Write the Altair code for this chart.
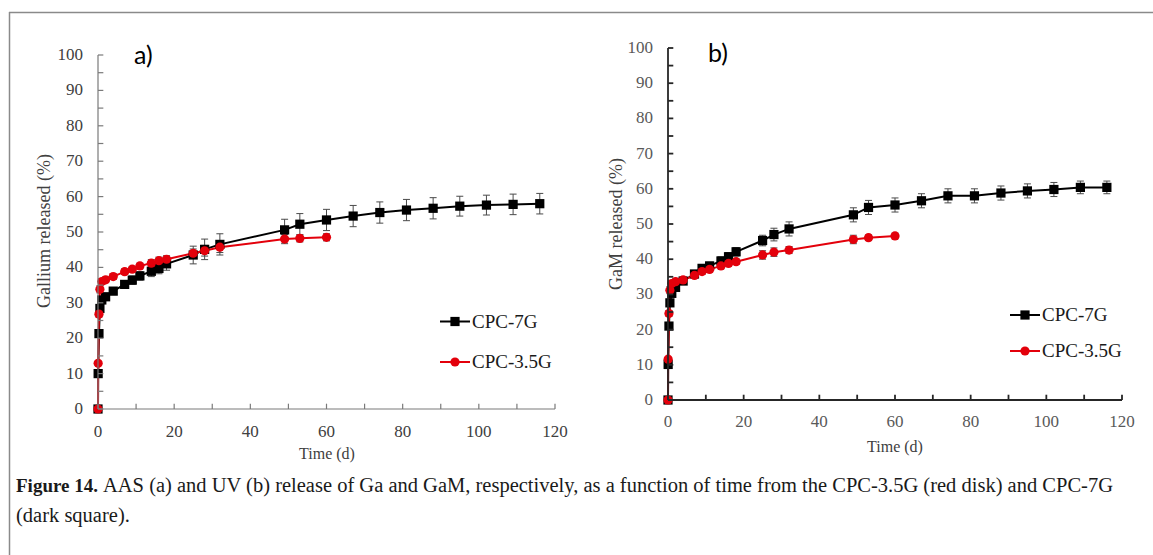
import altair as alt
import pandas as pd

series_names = ["CPC-7G", "CPC-3.5G"]
series_colors = ["#000000", "#e3000b"]
series_shapes = ["square", "circle"]

# ---- Panel a (AAS, Gallium) ----
time_a_7g = [0, 0.04, 0.25, 0.5, 1, 2, 4, 7, 9, 11, 14, 16, 18, 25, 28, 32, 49, 53, 60, 67, 74, 81, 88, 95, 102, 109, 116]
rel_a_7g = [0, 10, 21.3, 28.4, 30.8, 31.7, 33.3, 35.2, 36.4, 37.6, 38.9, 39.7, 41.0, 43.5, 45.1, 46.5, 50.6, 52.2, 53.4, 54.5, 55.5, 56.2, 56.7, 57.3, 57.6, 57.8, 58.0]
err_a_7g = [0, 0.5, 0.8, 1, 1, 1, 1, 1, 1.2, 1.2, 1.5, 1.5, 1.8, 2.5, 2.9, 3, 3, 3, 3, 3, 3, 3, 3, 2.8, 2.8, 2.9, 2.9]
time_a_35g = [0, 0.04, 0.25, 0.5, 1, 2, 4, 7, 9, 11, 14, 16, 18, 25, 28, 32, 49, 53, 60]
rel_a_35g = [0, 12.9, 26.8, 33.8, 36.0, 36.5, 37.4, 38.8, 39.5, 40.4, 41.2, 41.9, 42.3, 44.0, 44.7, 45.7, 48.0, 48.2, 48.5]
err_a_35g = [0, 0.5, 0.8, 1, 0.8, 0.8, 0.8, 0.8, 0.8, 0.8, 1, 1, 1, 1.2, 1.5, 1.5, 1.3, 1, 1]

# ---- Panel b (UV, GaM) ----
time_b_7g = time_a_7g
rel_b_7g = [0, 10.1, 21.0, 27.6, 30.3, 32.0, 33.8, 35.8, 37.4, 38.1, 39.5, 40.7, 42.1, 45.3, 47.0, 48.6, 52.6, 54.7, 55.4, 56.6, 58.0, 58.0, 58.8, 59.4, 59.8, 60.4, 60.4]
err_b_7g = [0, 0.5, 0.8, 1, 1, 1, 1, 1, 1, 1, 1.2, 1.2, 1.2, 1.5, 1.8, 2, 2, 2, 2, 2, 2, 2, 2, 2, 2, 1.8, 1.8]
time_b_35g = time_a_35g
rel_b_35g = [0, 11.6, 24.6, 31.2, 33.1, 33.6, 34.1, 35.4, 36.5, 37.1, 38.1, 38.8, 39.3, 41.2, 42.0, 42.6, 45.6, 46.1, 46.6]
err_b_35g = [0, 0.5, 0.8, 1, 0.8, 0.8, 0.8, 0.8, 0.8, 0.8, 0.8, 0.8, 0.8, 1.2, 1.2, 1, 1.2, 0.8, 0.8]

x_labels = [0, 20, 40, 60, 80, 100, 120]
x_ticks = list(range(0, 121, 10))
y_labels = list(range(0, 101, 10))
y_ticks = list(range(0, 101, 5))

panel_letters = ["a)", "b)"]
y_titles = ["Gallium released (%)", "GaM released (%)"]
x_title = "Time (d)"
caption_bold = "Figure 14."
caption_line1 = "AAS (a) and UV (b) release of Ga and GaM, respectively, as a function of time from the CPC-3.5G (red disk) and CPC-7G"
caption_line2 = "(dark square)."

SERIF = "Liberation Serif"
W, H = 1153, 555


def series_df(times, vals, errs, name):
    d = pd.DataFrame({"t": times, "v": vals, "err": errs})
    d["series"] = name
    d["lo"] = d["v"] - d["err"]
    d["hi"] = d["v"] + d["err"]
    return d


def panel(df, xr, yr, axis_color, axis_w, label_color, lab_dy,
          letter, ytitle, letter_pos, ytitle_pos, xtitle_pos, legend_pos):
    xs = alt.Scale(domain=[0, 120], range=xr, nice=False, zero=False)
    ys = alt.Scale(domain=[0, 100], range=yr, nice=False, zero=False)
    X = alt.X("t:Q", scale=xs, axis=None)
    Y = alt.Y("v:Q", scale=ys, axis=None)
    col = alt.Color("series:N", scale=alt.Scale(domain=series_names, range=series_colors), legend=None)
    shp = alt.Shape("series:N", scale=alt.Scale(domain=series_names, range=series_shapes), legend=None)

    base = alt.Chart(df)
    err_rule = base.mark_rule(color="#4a4a4a", strokeWidth=1).encode(
        x=X, y=alt.Y("lo:Q", scale=ys, axis=None), y2="hi:Q")
    cap_hi = base.transform_filter("datum.err > 0").mark_point(
        shape="M-1,0L1,0", size=49, filled=False, color="#4a4a4a", strokeWidth=1, opacity=1).encode(
        x=X, y=alt.Y("hi:Q", scale=ys, axis=None))
    cap_lo = base.transform_filter("datum.err > 0").mark_point(
        shape="M-1,0L1,0", size=49, filled=False, color="#4a4a4a", strokeWidth=1, opacity=1).encode(
        x=X, y=alt.Y("lo:Q", scale=ys, axis=None))
    lines = base.mark_line(strokeWidth=2).encode(x=X, y=Y, color=col, detail="series:N")
    pts = base.mark_point(filled=True, size=85, opacity=1).encode(x=X, y=Y, color=col, shape=shp)

    one = pd.DataFrame({"k": [0]})
    # axis lines
    xdom = alt.Chart(one).mark_rule(color=axis_color, strokeWidth=axis_w).encode(
        x=alt.XDatum(0, scale=xs, axis=None), x2=alt.X2Datum(120),
        y=alt.YDatum(0, scale=ys, axis=None))
    ydom = alt.Chart(one).mark_rule(color=axis_color, strokeWidth=axis_w).encode(
        x=alt.XDatum(0, scale=xs, axis=None),
        y=alt.YDatum(0, scale=ys, axis=None), y2=alt.Y2Datum(100))
    # tick marks (inside)
    xt = alt.Chart(pd.DataFrame({"t": x_ticks})).mark_rule(color=axis_color, strokeWidth=axis_w).encode(
        x=alt.X("t:Q", scale=xs, axis=None),
        y=alt.YDatum(0, scale=ys, axis=None), y2=alt.Y2Datum(1.5))
    yt = alt.Chart(pd.DataFrame({"v": y_ticks})).mark_rule(color=axis_color, strokeWidth=axis_w).encode(
        y=alt.Y("v:Q", scale=ys, axis=None),
        x=alt.XDatum(0, scale=xs, axis=None), x2=alt.X2Datum(1.4))
    # tick labels
    xl = alt.Chart(pd.DataFrame({"t": x_labels})).mark_text(
        font=SERIF, fontSize=17, color=label_color, align="center", baseline="middle", dy=lab_dy).encode(
        x=alt.X("t:Q", scale=xs, axis=None), y=alt.YDatum(0, scale=ys, axis=None), text="t:Q")
    yl = alt.Chart(pd.DataFrame({"v": y_labels})).mark_text(
        font=SERIF, fontSize=17, color=label_color, align="right", baseline="middle", dx=-15).encode(
        y=alt.Y("v:Q", scale=ys, axis=None), x=alt.XDatum(0, scale=xs, axis=None), text="v:Q")

    let = alt.Chart(one).mark_text(text=letter, font="Lato", fontSize=25, color="#000000",
                                   align="left", baseline="middle").encode(
        x=alt.value(letter_pos[0]), y=alt.value(letter_pos[1]))
    ytl = alt.Chart(one).mark_text(text=ytitle, font=SERIF, fontSize=18, color="#404040",
                                   angle=270, align="center", baseline="middle").encode(
        x=alt.value(ytitle_pos[0]), y=alt.value(ytitle_pos[1]))
    xtl = alt.Chart(one).mark_text(text=x_title, font=SERIF, fontSize=16, color="#404040",
                                   align="center", baseline="middle").encode(
        x=alt.value(xtitle_pos[0]), y=alt.value(xtitle_pos[1]))

    leg = []
    lx, ly0, ly1 = legend_pos
    for name, c, s, ly in zip(series_names, series_colors, series_shapes, [ly0, ly1]):
        leg.append(alt.Chart(one).mark_rule(color=c, strokeWidth=2).encode(
            x=alt.value(lx), x2=alt.value(lx + 30), y=alt.value(ly)))
        leg.append(alt.Chart(one).mark_point(shape=s, filled=True, size=85, color=c, opacity=1).encode(
            x=alt.value(lx + 15), y=alt.value(ly)))
        leg.append(alt.Chart(one).mark_text(text=name, font=SERIF, fontSize=19, color="#1a1a1a",
                                            align="left", baseline="middle").encode(
            x=alt.value(lx + 32), y=alt.value(ly)))

    return alt.layer(err_rule, cap_hi, cap_lo, lines, pts, xdom, ydom, xt, yt, xl, yl,
                     let, ytl, xtl, *leg)


df_a = pd.concat([series_df(time_a_7g, rel_a_7g, err_a_7g, series_names[0]),
                  series_df(time_a_35g, rel_a_35g, err_a_35g, series_names[1])])
df_b = pd.concat([series_df(time_b_7g, rel_b_7g, err_b_7g, series_names[0]),
                  series_df(time_b_35g, rel_b_35g, err_b_35g, series_names[1])])

pa = panel(df_a, [98, 555], [409, 55], "#7a7a7a", 1.2, "#404040", 23,
           panel_letters[0], y_titles[0], (134, 56), (45, 231), (327, 454), (440, 321.5, 362))
pb = panel(df_b, [668, 1122], [400, 48], "#262626", 1.8, "#595959", 22,
           panel_letters[1], y_titles[1], (708, 54), (617, 224), (895, 447), (1010, 315, 351))

one = pd.DataFrame({"k": [0]})
border_left = alt.Chart(one).mark_rule(color="#8a8a8a", strokeWidth=1.5).encode(
    x=alt.value(9.5), y=alt.value(12), y2=alt.value(H))
border_top = alt.Chart(one).mark_rule(color="#8a8a8a", strokeWidth=1.5).encode(
    x=alt.value(9), x2=alt.value(W), y=alt.value(12.5))
cap_b = alt.Chart(one).mark_text(text=caption_bold, font=SERIF, fontSize=19, fontWeight="bold",
                                 color="#1a1a1a", align="left", baseline="middle").encode(
    x=alt.value(16), y=alt.value(486))
cap_1 = alt.Chart(one).mark_text(text=caption_line1, font=SERIF, fontSize=20.5,
                                 color="#1a1a1a", align="left", baseline="middle").encode(
    x=alt.value(103), y=alt.value(486))
cap_2 = alt.Chart(one).mark_text(text=caption_line2, font=SERIF, fontSize=20.5,
                                 color="#1a1a1a", align="left", baseline="middle").encode(
    x=alt.value(16), y=alt.value(516))

chart = alt.layer(pa, pb, border_left, border_top, cap_b, cap_1, cap_2).resolve_scale(
    x="independent", y="independent", shape="independent", color="independent"
).properties(
    width=W, height=H, padding=0, autosize=alt.AutoSizeParams(type="none"),
    background="white"
).configure_view(stroke=None)

chart.save("out.html", embed_options={"renderer": "svg", "actions": False})
